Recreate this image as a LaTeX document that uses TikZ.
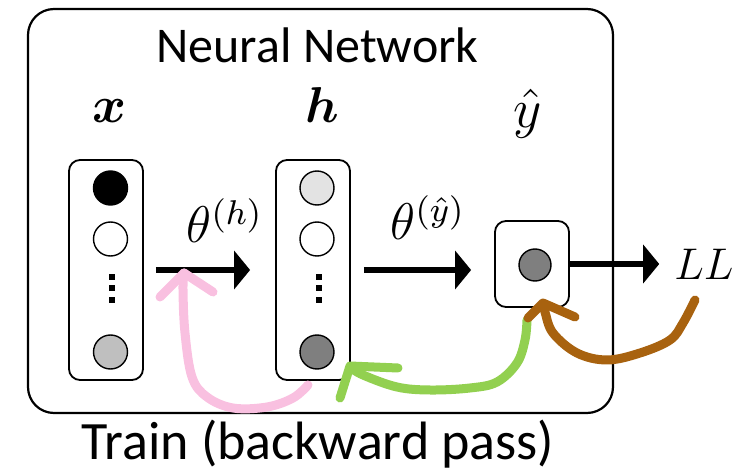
\documentclass[tikz,border=0pt]{standalone}
\usepackage{amsmath}
\usepackage{bm}
\usepackage{fontspec}
\setsansfont{Carlito}
\usetikzlibrary{arrows.meta}

\definecolor{unitlight}{HTML}{E3E3E3}
\definecolor{unitmid}{HTML}{BFBFBF}
\definecolor{unitdark}{HTML}{7F7F7F}
\definecolor{gradpink}{HTML}{F9C0E0}
\definecolor{gradgreen}{HTML}{92D050}
\definecolor{gradbrown}{HTML}{A8620F}

% math set at 12pt and enlarged, so every glyph keeps its design size
\newcommand\bigmath[2]{\scalebox{#1}{\fontsize{12}{14}\selectfont$#2$}}

\begin{document}
\begin{tikzpicture}[x=1pt,y=-1pt,
  frame/.style={draw, line width=2.2pt, rounded corners=26pt, inner sep=0},
  layerbox/.style={draw, line width=1.8pt, rounded corners=11pt,
    minimum width=74pt, minimum height=220pt, inner sep=0},
  outbox/.style={draw, line width=1.8pt, rounded corners=11pt,
    minimum width=74pt, minimum height=86pt, inner sep=0},
  unit/.style={circle, draw, line width=1.4pt, minimum size=34pt, inner sep=0},
  ellip/.style={fill, minimum size=5.5pt, inner sep=0},
  sans/.style={font=\sffamily\fontsize{#1}{#1}\selectfont, inner sep=0, anchor=base},
  mathlbl/.style={inner sep=0, anchor=base},
  fwd/.style={line width=6pt, -{Triangle[length=16pt, width=38pt]}},
  stroke/.style={line width=9pt, line cap=round, line join=round},
]
\useasboundingbox (0,0) rectangle (748,473);

% network frame and captions
\node[frame, minimum width=585pt, minimum height=404pt] (net) at (320.5,211) {};
\node[sans=50] (title) at (317.5,63) {Neural Network};
\node[sans=54] (caption) at (318,459) {Train (backward pass)};

% layer labels
\node[mathlbl] (xlbl) at (110,123) {\bigmath{4.3}{\bm{x}}};
\node[mathlbl] (hlbl) at (322,123) {\bigmath{4.2}{\bm{h}}};
\node[mathlbl] (ylbl) at (528,128) {\bigmath{4.6}{\hat{y}}};

% input layer
\node[layerbox] (xl) at (106,270) {};
\node[unit, fill=black] (x1) at (110.5,188) {};
\node[unit, fill=white] (x2) at (110.5,239) {};
\node[unit, fill=unitmid] (x3) at (110.5,352) {};
\foreach \i/\yy in {1/277,2/288,3/300}
  \node[ellip] (xd\i) at (112,\yy) {};

% hidden layer
\node[layerbox] (hl) at (313,270) {};
\node[unit, fill=unitlight] (h1) at (317,188) {};
\node[unit, fill=white] (h2) at (317,239) {};
\node[unit, fill=unitdark] (h3) at (317,352) {};
\foreach \i/\yy in {1/277,2/288,3/300}
  \node[ellip] (hd\i) at (319,\yy) {};

% output unit
\node[outbox] (out) at (532,264) {};
\node[unit, fill=unitdark, minimum size=32pt] (y1) at (535,265) {};

% loss
\node[mathlbl] (ll) at (704,280) {\bigmath{3.7}{LL}};

% forward connections
\draw[fwd] ([xshift=12pt]xl.east) -- ([xshift=-25pt]hl.west);
\draw[fwd] ([xshift=13pt]hl.east) -- ([xshift=-23pt]hl.east -| out.west);
\draw[fwd] (out.east) -- ([xshift=-15pt]ll.west |- out.east);
\node[mathlbl] (th) at (225,243) {\bigmath{4.3}{\theta^{(h)}}};
\node[mathlbl] (ty) at (428,240) {\bigmath{4.3}{\theta^{(\hat{y})}}};

% backward pass strokes
\draw[stroke, gradpink] plot[smooth, tension=0.6] coordinates
  {(308,385) (293,398) (267,407) (233,408) (207,397) (192,377) (185,333) (183,290) (184,273)};
\draw[stroke, gradpink] (160,297) -- (184,273) -- (213,292);

\draw[stroke, gradgreen] plot[smooth, tension=0.6] coordinates
  {(527,320) (525,340) (517,363) (497,382) (470,388) (430,390) (397,387) (363,375) (350,367)};
\draw[stroke, gradgreen] (340,398) -- (350,366) -- (398,368);

\draw[stroke, gradbrown] plot[smooth, tension=0.6] coordinates
  {(695,300) (683,323) (670,340) (640,353) (607,360) (577,353) (553,333) (545,312) (543,304)};
\draw[stroke, gradbrown] (528,318) -- (543,303) -- (575,317);
\end{tikzpicture}
\end{document}
